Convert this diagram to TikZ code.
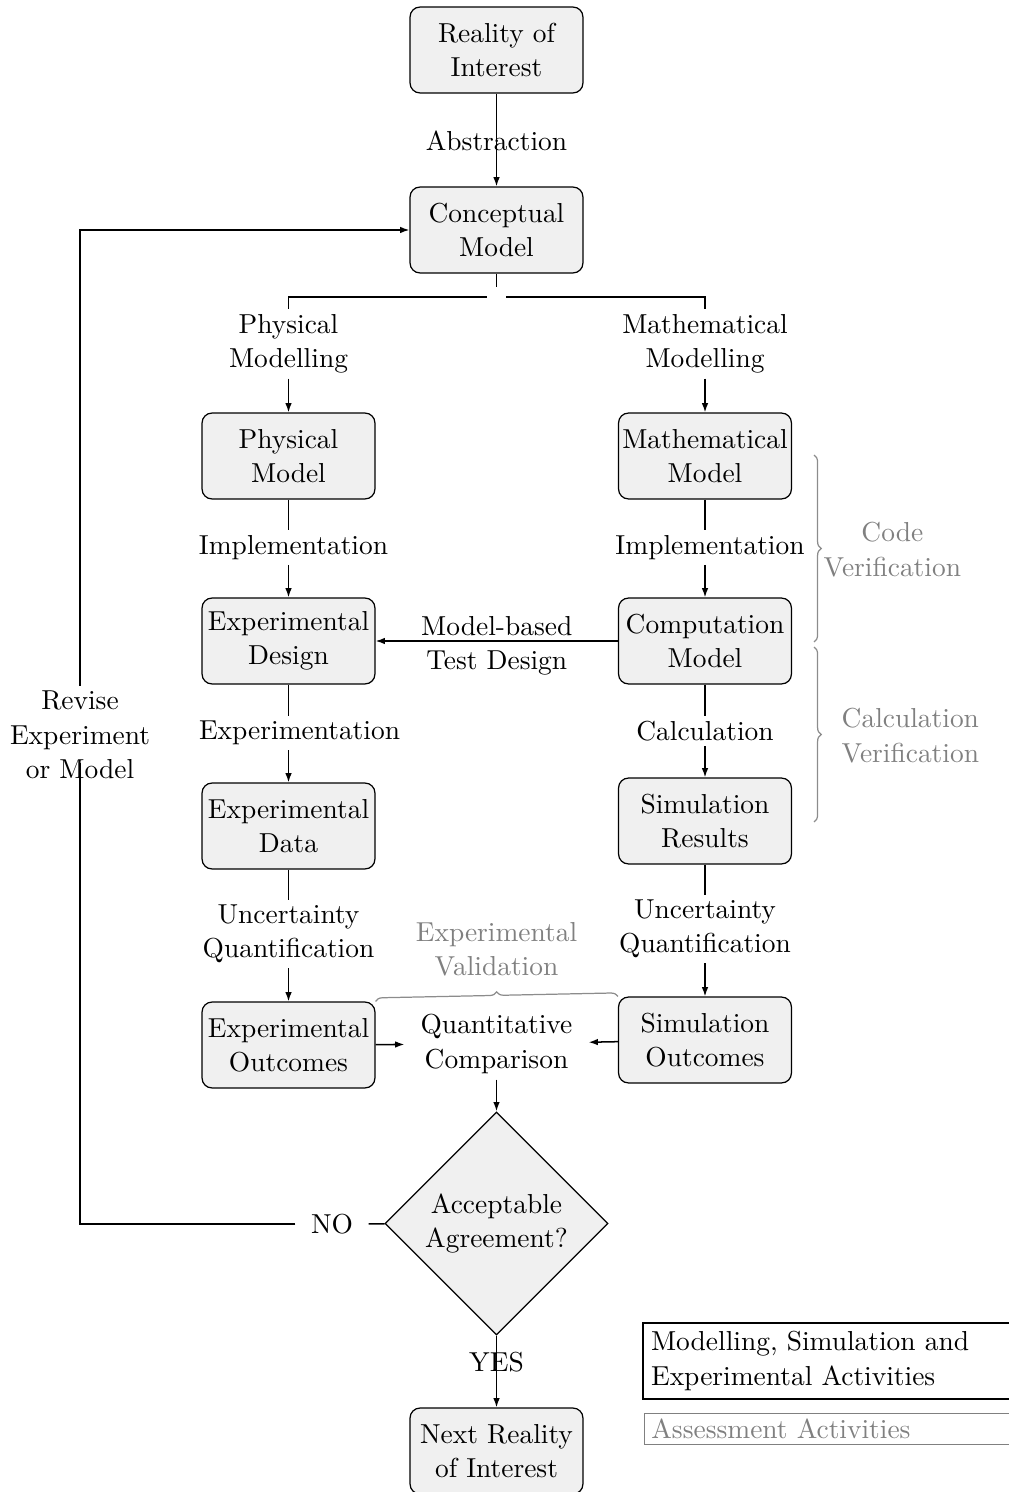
\documentclass[tikz,border=0pt]{standalone}
\usetikzlibrary{shapes.geometric,arrows.meta,decorations.pathreplacing}
\definecolor{boxgray}{gray}{0.94}
\begin{document}
\begin{tikzpicture}[x=0.36443pt,y=-0.36443pt,
 every node/.style={font=\fontsize{10pt}{12.5pt}\selectfont},
 box/.style={draw, line width=0.45pt, rounded corners=3.6pt, fill=boxgray, minimum width=63pt, minimum height=31.3pt, align=center, inner sep=1pt},
 lab/.style={align=center, inner sep=1.7pt},
 flow/.style={line width=0.55pt, -{Latex[length=3.4pt,width=2.4pt]}},
 ln/.style={line width=0.55pt},
 brc/.style={draw=gray!90, line width=0.45pt, decorate, decoration={brace, amplitude=2.6pt}},
 note/.style={text=gray, align=center}]
\useasboundingbox (0,0) rectangle (1009,1492);

% nodes
\node[box] (roi) at (496.5,50) {Reality of\\Interest};
\node[box] (conc) at (496.5,230) {Conceptual\\Model};
\node[inner sep=3.4pt] (split) at (496.5,297) {};
\node[lab] (pml) at (288.5,344) {Physical\\Modelling};
\node[lab] (mml) at (705,344) {Mathematical\\Modelling};
\node[box] (phys) at (288.5,456) {Physical\\Model};
\node[box] (math) at (705,456) {Mathematical\\Model};
\node[lab] (impl1) at (293.5,547.5) {Implementation};
\node[lab] (impl2) at (710,547.5) {Implementation};
\node[box] (expd) at (288.5,641) {Experimental\\Design};
\node[box] (comp) at (705,641) {Computation\\Model};
\node[lab] (expn) at (299.5,733) {Experimentation};
\node[lab] (calc) at (705,731) {Calculation};
\node[box] (expdata) at (288.5,826) {Experimental\\Data};
\node[box] (simres) at (705,821) {Simulation\\Results};
\node[lab] (uq1) at (288.5,934) {Uncertainty\\Quantification};
\node[lab] (uq2) at (705,929) {Uncertainty\\Quantification};
\node[box] (expout) at (288.5,1045) {Experimental\\Outcomes};
\node[box] (simout) at (705,1040) {Simulation\\Outcomes};
\node[align=center, minimum width=66.7pt, inner sep=2pt] (quant) at (496.5,1044) {Quantitative\\Comparison};
\node[diamond, draw, line width=0.45pt, fill=boxgray, aspect=1, minimum width=81.3pt, minimum height=81.3pt, inner sep=0pt, align=center] (dia) at (496.5,1223.5) {Acceptable\\Agreement?};
\node[lab, inner xsep=5.5pt] (no) at (332,1224) {NO};
\node[box] (next) at (496.5,1451) {Next Reality\\of Interest};
\node[lab] (rev) at (80,735) {Revise\\Experiment\\or Model};
\coordinate (revb) at (80,763);

% connectors
\draw[flow] (roi) -- (conc);
\node[lab] (abs) at (496.5,141) {Abstraction};
\draw[ln] (conc) -- (split);
\draw[ln] (split) -| (pml);
\draw[ln] (split) -| (mml);
\draw[flow] (pml) -- (phys);
\draw[flow] (mml) -- (math);
\draw[ln] (phys.south) -- (phys.south |- impl1.north);
\draw[flow] (phys.south |- impl1.south) -- (expd.north);
\draw[ln] (math.south) -- (math.south |- impl2.north);
\draw[flow] (math.south |- impl2.south) -- (comp.north);
\draw[flow] (comp) -- node[lab, yshift=-1.8pt] (mbtd) {Model-based\\Test Design} (expd);
\draw[ln] (expd.south) -- (expd.south |- expn.north);
\draw[flow] (expd.south |- expn.south) -- (expdata.north);
\draw[ln] (comp) -- (calc);
\draw[flow] (calc) -- (simres);
\draw[ln] (expdata) -- (uq1);
\draw[flow] (uq1) -- (expout);
\draw[ln] (simres) -- (uq2);
\draw[flow] (uq2) -- (simout);
\draw[flow] (expout) -- (quant);
\draw[flow] (simout) -- (quant);
\draw[flow] (quant) -- (dia);
\draw[flow] (dia) -- (next);
\node[lab] (yes) at (496.5,1362) {YES};
\draw[ln] (dia) -- (no);
\draw[ln] (no) -| (revb);
\draw[flow] (rev) |- (conc);

% assessment braces
\draw[brc] (814,455) -- (814,642);
\draw[brc] (814,647) -- (814,822);
\draw[brc] (expout.north east) -- (simout.north west);
\node[note, anchor=west] (cv) at (814,549.5) {Code\\Verification};
\node[note, anchor=west] (clv) at (832,735.5) {Calculation\\Verification};
\node[note] (ev) at (496.5,949.5) {Experimental\\Validation};

% legend
\node[draw, line width=0.6pt, anchor=west, text width=4.6cm, align=left, inner sep=3pt] (leg1) at (642,1361) {Modelling, Simulation and\\Experimental Activities};
\node[draw=gray, text=gray, anchor=west, text width=4.6cm, align=left, inner xsep=2.5pt, inner ysep=0pt, minimum height=11pt] (leg2) at (644,1429) {Assessment Activities};
\end{tikzpicture}
\end{document}
